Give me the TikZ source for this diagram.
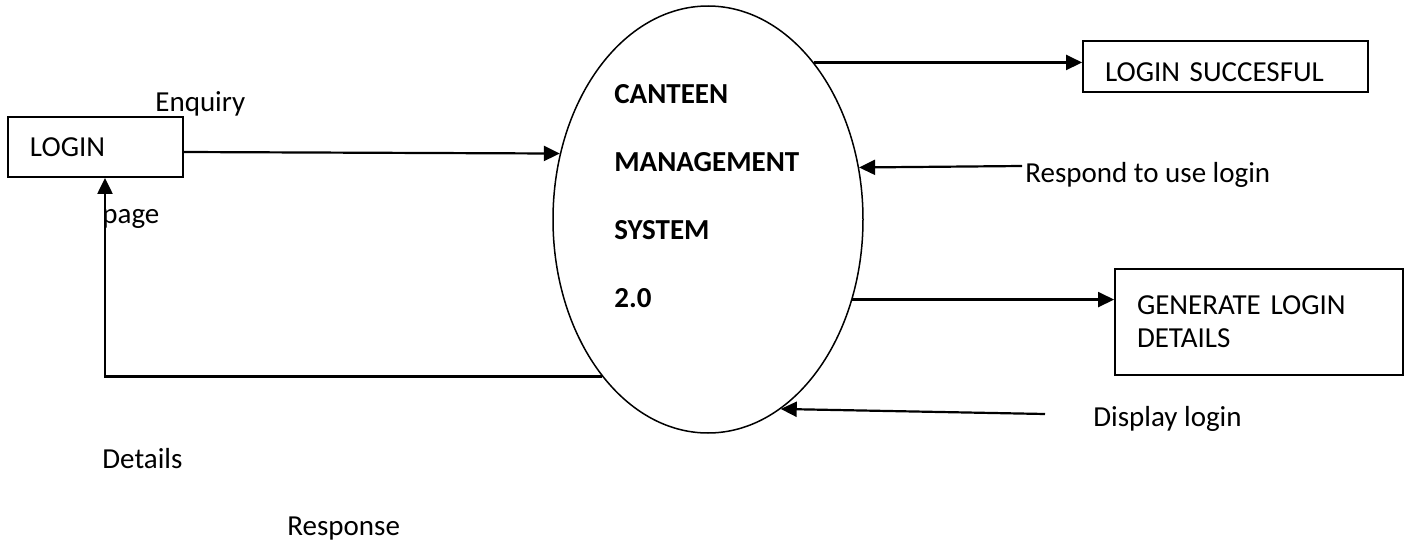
\documentclass[tikz,border=0pt]{standalone}
\usepackage{fontspec}
\setmainfont{Carlito}
\usepackage{tikz}
\usetikzlibrary{arrows.meta}
\usetikzlibrary{shapes.geometric}

\tikzset{
    flow/.style = {line width=1.1pt, -{Triangle[length=8pt, width=7.5pt]}},
    box/.style = {draw, line width=0.9pt, align=left, inner xsep=11pt, inner ysep=0pt},
    lbl/.style = {inner sep=0pt, anchor=base west},
    title/.style = {lbl, font=\fontsize{14.5}{16.5}\selectfont\bfseries}
}

\begin{document}
\begin{tikzpicture}[x=0.5pt, y=-0.5pt, font=\fontsize{14.5}{16.5}\selectfont]
        \useasboundingbox (0, 0) rectangle (1410, 546);
        \node [draw, ellipse, line width=0.75pt, inner sep=0pt,
            minimum width=155pt, minimum height=213.5pt] (cms) at (708, 219.5) {};
        \node [title] (canteen) at (614, 103) {CANTEEN};
        \node [title] (management) at (614, 171) {MANAGEMENT};
        \node [title] (system) at (614, 239) {SYSTEM};
        \node [title] (version) at (614, 307) {2.0};

        \node [box, text width=65.5pt, minimum height=30pt] (login) at (95.5, 147) {LOGIN};
        \node [box, text width=120.5pt, minimum height=25.5pt,
            text height=14.5pt, text depth=0pt] (succ) at (1225.5, 66.5) {LOGIN SUCCESFUL};
        \node [box, text width=122pt, minimum height=53pt] (gen) at (1259, 322)
            {GENERATE LOGIN\\DETAILS};

        \coordinate (respondend) at (1022, 166);
        \coordinate (displayend) at (1045, 414);

        \draw [flow] ([yshift=-2.5pt]login.east) -- (cms.156);
        \draw [flow] (cms.56) -- (cms.56 -| succ.west);
        \draw [flow] (respondend) -- (cms.19);
        \draw [flow] (cms.331) -- (cms.331 -| gen.west);
        \draw [flow] (displayend) -- (cms.291);
        \draw [flow] (cms.236) -| ([xshift=4.75pt]login.south);

        \node [lbl] (enquiry) at (155, 112) {Enquiry};
        \node [lbl] (page) at (102, 223) {page};
        \node [lbl] (details) at (102, 468) {Details};
        \node [lbl] (response) at (287, 535) {Response};
        \node [lbl] (respond) at (1025, 182) {Respond to use login};
        \node [lbl] (display) at (1093, 426) {Display login};
    \end{tikzpicture}
\end{document}
